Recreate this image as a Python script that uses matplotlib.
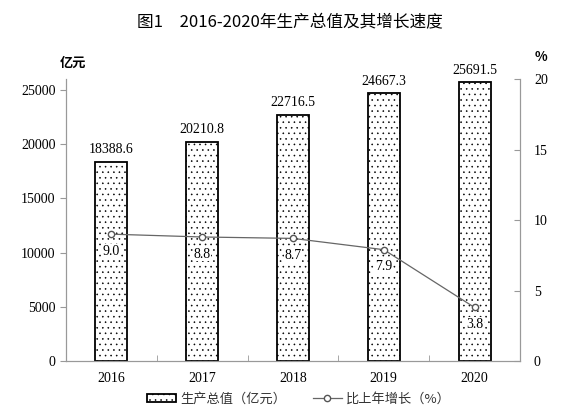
import numpy as np
import matplotlib
matplotlib.use("Agg")
import matplotlib.pyplot as plt

plt.rcParams['font.family'] = ['Liberation Serif', 'Noto Sans CJK SC']
plt.rcParams['hatch.linewidth'] = 0.4
plt.rcParams['hatch.color'] = '#333333'

# 数据
years = ['2016', '2017', '2018', '2019', '2020']
gdp = [18388.6, 20210.8, 22716.5, 24667.3, 25691.5]
growth = [9.0, 8.8, 8.7, 7.9, 3.8]

cjk = ['Noto Sans CJK SC', 'DejaVu Sans']

fig = plt.figure(figsize=(5.86, 4.16), dpi=100)
ax = fig.add_axes([0.1126, 0.132, 0.7748, 0.678])
ax2 = ax.twinx()

x = np.arange(len(years))
bars = ax.bar(x, gdp, width=0.35, color='white', edgecolor='black',
              linewidth=1.3, hatch='...', zorder=2, label='生产总值（亿元）')
ax.set_xlim(-0.5, 4.5)
ax.set_ylim(0, 26000)
ax.set_yticks([0, 5000, 10000, 15000, 20000, 25000])
ax.set_xticks(x)
ax.set_xticklabels(years, fontsize=10)
ax.set_xticks(np.arange(-0.5, 4.6, 1), minor=True)
ax.tick_params(axis='x', which='major', length=0, pad=8)
ax.tick_params(axis='x', which='minor', direction='in', length=4, color='#999999')
ax.tick_params(axis='y', direction='out', length=4, color='#999999', labelsize=10)

for xi, v in zip(x, gdp):
    ax.text(xi, v + 500, f'{v:.1f}', ha='center', va='bottom', fontsize=10)

line, = ax2.plot(x, growth, color='#666666', linewidth=0.9, marker='o',
                 markersize=4.5, markerfacecolor='white', markeredgecolor='#555555',
                 zorder=3, label='比上年增长（%）')
ax2.set_ylim(0, 20)
ax2.set_yticks([0, 5, 10, 15, 20])
ax2.tick_params(axis='y', direction='in', length=4, color='#999999', labelsize=10, pad=10)

for xi, v in zip(x, growth):
    ax2.text(xi, v - 0.75, f'{v:.1f}', ha='center', va='top', fontsize=10,
             bbox=dict(boxstyle='square,pad=0.05', facecolor='white', edgecolor='none'))

for a in (ax, ax2):
    a.spines['top'].set_visible(False)
    for s in ('left', 'right', 'bottom'):
        a.spines[s].set_color('#999999')
        a.spines[s].set_linewidth(0.8)

fig.text(0.495, 0.945, '图1　2016-2020年生产总值及其增长速度', ha='center', va='center',
         fontsize=12, family=cjk)
fig.text(0.125, 0.85, '亿元', ha='center', va='center', fontsize=9.5,
         family=cjk, fontweight='bold')
fig.text(0.923, 0.862, '%', ha='center', va='center', fontsize=9.5,
         family=cjk, fontweight='bold')

leg = fig.legend(handles=[bars, line], loc='center', bbox_to_anchor=(0.51, 0.04),
                 ncol=2, frameon=False, prop={'family': cjk, 'size': 9.5},
                 handlelength=2.2, handleheight=0.6, columnspacing=2.0, handletextpad=0.3)
for t in leg.get_texts():
    t.set_color('#333333')

fig.savefig('out.png', dpi=100)
